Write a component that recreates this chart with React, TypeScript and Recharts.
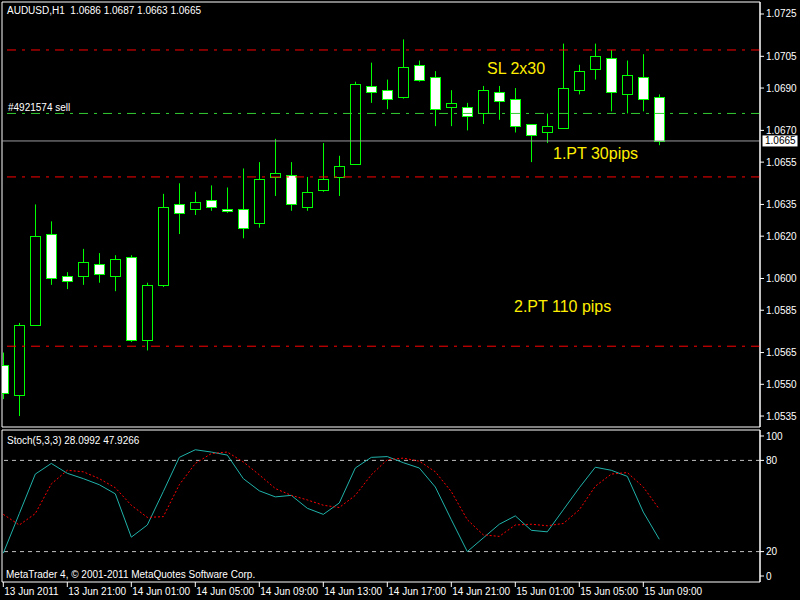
import { Bar, ComposedChart, Line, LineChart, ReferenceArea, ReferenceLine, XAxis, YAxis } from "recharts";

// AUDUSD H1, 13 Jun 17:00 .. 15 Jun 10:00
const opens = [
  1.0559, 1.0545, 1.0578, 1.0621, 1.0601, 1.0601, 1.0607, 1.0601, 1.061, 1.0571, 1.0597, 1.0635, 1.0633, 1.0637,
  1.0633, 1.0633, 1.0626, 1.0648, 1.0649, 1.0634, 1.0642, 1.0648, 1.0654, 1.0691, 1.0689, 1.0686, 1.0701, 1.0695,
  1.0681, 1.0681, 1.0678, 1.0688, 1.0685, 1.0673, 1.0669, 1.0671, 1.0689, 1.0699, 1.0704, 1.0687, 1.0695, 1.0686,
];
const highs = [
  1.0565, 1.0579, 1.0635, 1.0627, 1.0603, 1.0614, 1.0612, 1.0611, 1.0611, 1.0598, 1.064, 1.0645, 1.0641, 1.0644,
  1.0643, 1.0652, 1.0655, 1.0666, 1.0655, 1.0648, 1.0664, 1.0658, 1.0693, 1.0702, 1.0694, 1.0713, 1.0703, 1.0698,
  1.0689, 1.0683, 1.0691, 1.0691, 1.069, 1.0673, 1.0678, 1.0711, 1.0701, 1.0711, 1.0708, 1.0703, 1.0706, 1.0687,
];
const lows = [
  1.0543, 1.0535, 1.0578, 1.0597, 1.0595, 1.0597, 1.0598, 1.0594, 1.057, 1.0566, 1.0596, 1.0621, 1.063, 1.0632,
  1.0631, 1.0619, 1.0624, 1.0639, 1.0632, 1.0632, 1.0641, 1.0639, 1.0654, 1.0683, 1.068, 1.0685, 1.0693, 1.0672,
  1.0672, 1.067, 1.0673, 1.0675, 1.0669, 1.0655, 1.0664, 1.0671, 1.0687, 1.0694, 1.0679, 1.0678, 1.0679, 1.0663,
];
const closes = [
  1.0546, 1.0578, 1.062, 1.06, 1.0599, 1.0608, 1.0602, 1.0609, 1.0571, 1.0597, 1.0634, 1.0631, 1.0636, 1.0634,
  1.0632, 1.0624, 1.0647, 1.065, 1.0635, 1.0641, 1.0647, 1.0653, 1.0692, 1.0688, 1.0685, 1.07, 1.0694, 1.068,
  1.0683, 1.0677, 1.0689, 1.0684, 1.0672, 1.0668, 1.0672, 1.069, 1.0698, 1.0705, 1.0688, 1.0696, 1.0685, 1.0665,
];

const stochK = [
  19, 45, 71, 78, 71.5, 68, 64, 58, 29.5, 37.5, 59.5, 82, 87, 85.5, 83.5, 68, 60, 56, 57, 48.5, 44.5, 52, 75, 82,
  82.5, 78.5, 75, 62.5, 41, 20, 29, 38, 43.5, 34, 33, 47.5, 62, 75.5, 73.5, 69.5, 46, 28.1,
];
const stochD = [
  44.5, 37.5, 45, 64.5, 73.5, 72.5, 68, 62, 50.5, 42.5, 43, 64, 78, 84.5, 85.5, 79, 70.5, 61.5, 57, 54, 50.5, 49,
  57, 70.5, 80.5, 81.5, 79.5, 72.5, 59.5, 41, 31, 30, 37.5, 38, 37, 38.5, 47.5, 63, 71, 72, 62.5, 47.9,
];

const timeTicks = [0, 4, 8, 12, 16, 20, 24, 28, 32, 36, 40];
const timeLabels = [
  "13 Jun 2011", "13 Jun 21:00", "14 Jun 01:00", "14 Jun 05:00", "14 Jun 09:00", "14 Jun 13:00",
  "14 Jun 17:00", "14 Jun 21:00", "15 Jun 01:00", "15 Jun 05:00", "15 Jun 09:00",
];

const priceTicks = [1.0725, 1.0705, 1.069, 1.067, 1.0665, 1.0655, 1.0635, 1.062, 1.06, 1.0585, 1.0565, 1.055, 1.0535];
const stochTicks = [0, 20, 80, 100];

const lastPrice = 1.0665;
const stopLoss = 1.0708;
const entry = 1.0678;
const target1 = 1.0648;
const target2 = 1.0568;

const candles = opens.map((o, i) => ({
  i,
  o,
  h: highs[i],
  l: lows[i],
  c: closes[i],
  range: [lows[i], highs[i]],
  k: stochK[i],
  d: stochD[i],
}));

const X_DOMAIN = [-0.08125, 47.29375];
const Y_DOMAIN = [1.052982, 1.073067];
const GREEN = "#00FF00";
const FONT = "'Liberation Sans', Arial, sans-serif";
const DASHDOT = "9 6 3 6";

const Candle = (props: any) => {
  const { x, y, width, height, payload } = props;
  const { o, h, l, c } = payload;
  const top = Math.min(y, y + height);
  const bot = Math.max(y, y + height);
  const k = (bot - top) / (h - l);
  const py = (v: number) => top + (h - v) * k;
  const cx = Math.round(x + width / 2) + 0.5;
  const bTop = Math.round(py(Math.max(o, c))) + 0.5;
  const bBot = Math.round(py(Math.min(o, c))) + 0.5;
  return (
    <g>
      <line x1={cx} x2={cx} y1={top} y2={bot} stroke={GREEN} />
      <rect x={cx - 5} y={bTop} width={10} height={Math.max(bBot - bTop, 1)} fill={c >= o ? "#000" : "#fff"} stroke={GREEN} />
    </g>
  );
};

const PriceTick = ({ x, y, payload }: any) => {
  const v = payload.value;
  if (v === lastPrice) {
    return (
      <g>
        <rect x={x + 2.5} y={y - 5.5} width={35} height={11} fill="#fff" />
        <text x={x + 5} y={y + 3.5} fill="#000" fontSize={10} fontFamily={FONT}>
          {v.toFixed(4)}
        </text>
      </g>
    );
  }
  return (
    <g>
      <line x1={x} x2={x + 4} y1={y} y2={y} stroke="#fff" />
      <text x={x + 6} y={y + 3.5} fill="#fff" fontSize={10} fontFamily={FONT}>
        {v.toFixed(4)}
      </text>
    </g>
  );
};

const StochTick = ({ x, y, payload }: any) => {
  const v = payload.value;
  const ty = v === 100 ? y + 6 : v === 0 ? y - 6 : y;
  return (
    <g>
      <line x1={x} x2={x + 4} y1={ty} y2={ty} stroke="#fff" />
      <text x={x + 6} y={ty + 3.5} fill="#fff" fontSize={10} fontFamily={FONT}>
        {v}
      </text>
    </g>
  );
};

const TimeTick = ({ x, y, payload }: any) => {
  const idx = timeTicks.indexOf(payload.value);
  return (
    <g>
      <line x1={x} x2={x} y1={y} y2={y + 5} stroke="#fff" />
      <text x={x + 1} y={y + 13} fill="#fff" fontSize={10} fontFamily={FONT}>
        {timeLabels[idx]}
      </text>
    </g>
  );
};

export default function App() {
  return (
    <div style={{ position: "absolute", left: 0, top: 0, width: 800, height: 600, background: "#000" }}>
      <ComposedChart width={800} height={428} data={candles} margin={{ top: 2, right: 0, bottom: 1, left: 2 }}>
        <XAxis dataKey="i" type="number" domain={X_DOMAIN} hide allowDataOverflow />
        <YAxis
          orientation="right"
          width={40}
          domain={Y_DOMAIN}
          allowDataOverflow
          ticks={priceTicks}
          interval={0}
          tickSize={0}
          tickMargin={0}
          tickLine={false}
          axisLine={{ stroke: "#fff" }}
          tick={<PriceTick />}
        />
        <ReferenceArea x1={X_DOMAIN[0]} x2={X_DOMAIN[1]} y1={Y_DOMAIN[0]} y2={Y_DOMAIN[1]} fill="none" stroke="#fff" fillOpacity={0} />
        <ReferenceLine y={stopLoss} stroke="#FF0000" strokeDasharray={DASHDOT} />
        <ReferenceLine y={entry} stroke="#32CD32" strokeDasharray={DASHDOT} />
        <ReferenceLine y={lastPrice} stroke="#9A9AA0" />
        <ReferenceLine y={target1} stroke="#FF0000" strokeDasharray={DASHDOT} />
        <ReferenceLine y={target2} stroke="#FF0000" strokeDasharray={DASHDOT} />
        <Bar dataKey="range" barSize={10} shape={<Candle />} isAnimationActive={false} />
        <text x={7} y={14} fill="#fff" fontSize={10} fontFamily={FONT} style={{ whiteSpace: "pre" }}>
          {"AUDUSD,H1  1.0686 1.0687 1.0663 1.0665"}
        </text>
        <text x={8} y={111} fill="#fff" fontSize={10} fontFamily={FONT}>
          #4921574 sell
        </text>
        <text x={487} y={74} fill="#FFEE00" fontSize={16} fontFamily={FONT}>
          SL 2x30
        </text>
        <text x={553} y={159} fill="#FFEE00" fontSize={16} fontFamily={FONT}>
          1.PT 30pips
        </text>
        <text x={514} y={312} fill="#FFEE00" fontSize={16} fontFamily={FONT}>
          2.PT 110 pips
        </text>
      </ComposedChart>
      <LineChart width={800} height={172} data={candles} margin={{ top: 2, right: 0, bottom: 0, left: 2 }}>
        <XAxis
          dataKey="i"
          type="number"
          domain={X_DOMAIN}
          allowDataOverflow
          ticks={timeTicks}
          interval={0}
          height={18}
          tickSize={0}
          tickMargin={0}
          tickLine={false}
          axisLine={false}
          tick={<TimeTick />}
        />
        <YAxis
          orientation="right"
          width={40}
          domain={[0, 100]}
          ticks={stochTicks}
          interval={0}
          tickSize={0}
          tickMargin={0}
          tickLine={false}
          axisLine={{ stroke: "#fff" }}
          tick={<StochTick />}
        />
        <ReferenceArea x1={X_DOMAIN[0]} x2={X_DOMAIN[1]} y1={0} y2={100} fill="none" stroke="#fff" fillOpacity={0} />
        <ReferenceLine y={80} stroke="#C0C0C0" strokeDasharray="4 4" />
        <ReferenceLine y={20} stroke="#C0C0C0" strokeDasharray="4 4" />
        <Line dataKey="k" type="linear" stroke="#20B2AA" dot={false} strokeWidth={1} isAnimationActive={false} />
        <Line dataKey="d" type="linear" stroke="#FF0000" strokeDasharray="2 2" dot={false} strokeWidth={1} isAnimationActive={false} />
        <text x={7} y={16} fill="#fff" fontSize={10} fontFamily={FONT}>
          Stoch(5,3,3) 28.0992 47.9266
        </text>
        <text x={6} y={150} fill="#fff" fontSize={10} fontFamily={FONT}>
          MetaTrader 4, © 2001-2011 MetaQuotes Software Corp.
        </text>
      </LineChart>
    </div>
  );
}
